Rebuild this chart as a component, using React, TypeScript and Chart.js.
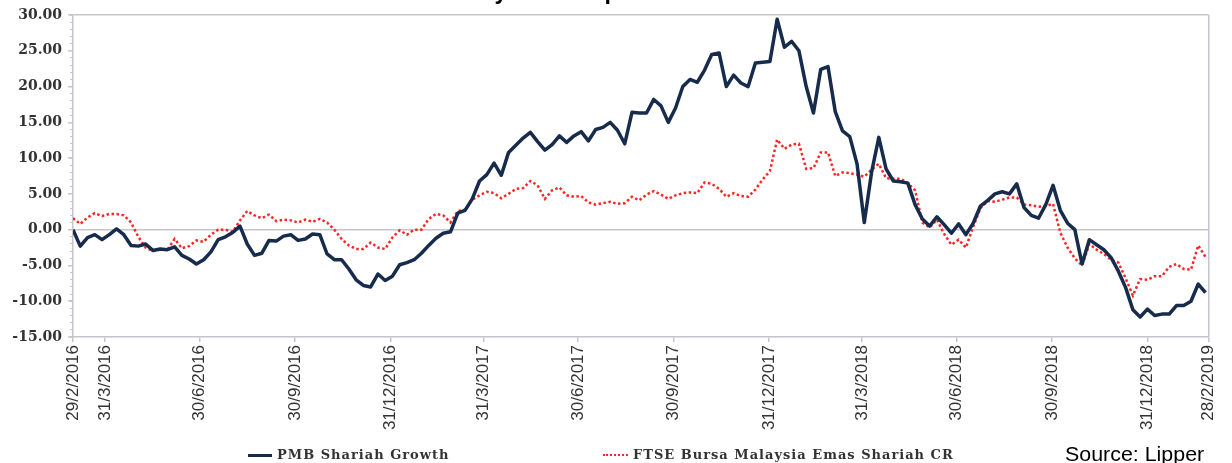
import React, { useEffect, useRef } from 'react';
import { Chart, registerables } from 'chart.js';

Chart.register(...registerables);

const TITLE = '3-year fund performance';
const SERIES_NAMES = ['PMB Shariah Growth', 'FTSE Bursa Malaysia Emas Shariah CR'];
const SOURCE = 'Source: Lipper';

const START_DATE = '2016-02-29';
const END_DATE = '2019-02-28';
const STEP_DAYS = 7; // weekly observations from START_DATE

const TICK_DATES = [
  '2016-02-29', '2016-03-31', '2016-06-30', '2016-09-30', '2016-12-31',
  '2017-03-31', '2017-06-30', '2017-09-30', '2017-12-31',
  '2018-03-31', '2018-06-30', '2018-09-30', '2018-12-31', '2019-02-28',
];
const TICK_LABELS = [
  '29/2/2016', '31/3/2016', '30/6/2016', '30/9/2016', '31/12/2016',
  '31/3/2017', '30/6/2017', '30/9/2017', '31/12/2017',
  '31/3/2018', '30/6/2018', '30/9/2018', '31/12/2018', '28/2/2019',
];

const PMB = [
  0.0, -2.3, -1.1, -0.7, -1.4, -0.7, 0.1, -0.7, -2.2, -2.3,
  -2.0, -2.9, -2.7, -2.8, -2.4, -3.6, -4.1, -4.8, -4.2, -3.1,
  -1.4, -1.0, -0.4, 0.5, -2.0, -3.6, -3.3, -1.5, -1.6, -0.9,
  -0.7, -1.5, -1.3, -0.6, -0.7, -3.4, -4.2, -4.2, -5.5, -7.0,
  -7.8, -8.0, -6.2, -7.1, -6.5, -4.9, -4.6, -4.2, -3.3, -2.2,
  -1.2, -0.5, -0.3, 2.3, 2.7, 4.3, 6.8, 7.7, 9.3, 7.6,
  10.8, 11.8, 12.8, 13.6, 12.3, 11.1, 11.9, 13.1, 12.2, 13.1,
  13.7, 12.4, 14.0, 14.3, 15.0, 13.9, 12.0, 16.4, 16.3, 16.3,
  18.2, 17.3, 15.0, 17.0, 20.0, 21.0, 20.6, 22.3, 24.5, 24.7,
  20.0, 21.6, 20.5, 20.0, 23.3, 23.4, 23.5, 29.4, 25.5, 26.3,
  25.0, 20.0, 16.3, 22.4, 22.8, 16.5, 13.8, 13.0, 9.2, 1.0,
  8.0, 12.9, 8.5, 6.8, 6.7, 6.5, 3.5, 1.5, 0.5, 1.8,
  0.7, -0.5, 0.8, -0.7, 0.9, 3.3, 4.1, 5.0, 5.3, 5.0,
  6.4, 3.1, 2.0, 1.6, 3.5, 6.2, 2.7, 0.9, 0.0, -4.8,
  -1.4, -2.1, -2.8, -3.9, -5.8, -8.1, -11.2, -12.2, -11.1, -12.0,
  -11.8, -11.8, -10.6, -10.6, -10.0, -7.6, -8.8,
];

const FTSE = [
  1.6, 0.8, 1.7, 2.3, 1.9, 2.2, 2.2, 2.0, 1.0, -1.0,
  -2.5, -3.0, -2.8, -2.8, -1.3, -2.6, -2.3, -1.5, -1.7, -0.7,
  0.0, 0.0, -0.3, 1.3, 2.6, 2.0, 1.6, 2.1, 1.2, 1.4,
  1.3, 1.0, 1.4, 1.1, 1.5, 1.0, 0.0, -1.3, -2.2, -2.7,
  -2.7, -1.8, -2.5, -2.7, -1.1, -0.1, -0.7, 0.0, 0.0, 1.5,
  2.2, 2.0, 1.0, 2.6, 2.8, 4.2, 4.8, 5.3, 5.1, 4.4,
  5.0, 5.7, 5.8, 6.8, 6.2, 4.3, 5.5, 5.9, 4.8, 4.6,
  4.7, 3.8, 3.5, 3.7, 3.9, 3.6, 3.7, 4.6, 4.1, 4.9,
  5.4, 4.9, 4.3, 4.8, 5.1, 5.2, 5.1, 6.6, 6.4, 5.7,
  4.6, 5.1, 4.7, 4.6, 5.6, 7.0, 8.2, 12.6, 11.3, 11.9,
  12.0, 8.5, 8.6, 10.8, 10.8, 7.5, 8.0, 7.9, 7.7, 7.4,
  8.4, 9.2, 7.2, 7.1, 7.1, 6.5, 5.5, 1.0, 0.3, 1.4,
  -0.6, -2.1, -1.4, -2.5, 0.4, 3.0, 4.0, 3.9, 4.2, 4.5,
  4.5, 3.5, 3.4, 3.2, 3.3, 3.6, -0.4, -2.5, -4.0, -5.0,
  -2.0, -2.8, -3.4, -4.2, -4.6, -6.8, -9.2, -6.9, -7.0, -6.5,
  -6.5, -5.2, -4.8, -5.5, -5.6, -2.2, -3.8,
];

const Y_MIN = -15;
const Y_MAX = 30;
const Y_STEP = 5;
const Y_MINOR_STEP = 1;

const NAVY = '#172b4d';
const RED = '#ff2424';
const AXIS_GRAY = '#c4c6cc';
const TEXT_GRAY = '#333333';

const dayOffset = (iso: string) => (Date.parse(iso) - Date.parse(START_DATE)) / 86400000;

export default function App() {
  const ref = useRef<HTMLCanvasElement>(null);

  useEffect(() => {
    const xMax = dayOffset(END_DATE);
    const tickDays = TICK_DATES.map(dayOffset);
    const chart = new Chart(ref.current!, {
      type: 'line',
      data: {
        datasets: [
          {
            label: SERIES_NAMES[0],
            data: PMB.map((v, i) => ({ x: i * STEP_DAYS, y: v })),
            borderColor: NAVY,
            backgroundColor: NAVY,
            borderWidth: 3.5,
            pointRadius: 0,
            tension: 0,
            borderJoinStyle: 'round',
          },
          {
            label: SERIES_NAMES[1],
            data: FTSE.map((v, i) => ({ x: i * STEP_DAYS, y: v })),
            borderColor: RED,
            backgroundColor: RED,
            borderWidth: 2.5,
            borderDash: [2.5, 2.5],
            pointRadius: 0,
            tension: 0,
          },
        ],
      },
      options: {
        animation: false,
        responsive: false,
        layout: { padding: { top: 15, right: 18, bottom: 0, left: 0 } },
        plugins: {
          legend: { display: false },
          title: { display: false },
          tooltip: { enabled: false },
        },
        scales: {
          x: {
            type: 'linear',
            min: 0,
            max: xMax,
            afterBuildTicks: (scale: any) => {
              scale.ticks = tickDays.map((d) => ({ value: d }));
            },
            afterFit: (scale: any) => {
              scale.height = 126;
            },
            ticks: {
              autoSkip: false,
              minRotation: 90,
              maxRotation: 90,
              padding: 3,
              color: TEXT_GRAY,
              font: { family: '"Liberation Sans", Arial, sans-serif', size: 17 },
              callback: (_v: any, i: number) => TICK_LABELS[i],
            },
            grid: {
              color: (ctx: any) => (ctx.tick && ctx.tick.value === xMax ? AXIS_GRAY : 'rgba(0,0,0,0)'),
              tickColor: AXIS_GRAY,
              tickLength: 5,
              lineWidth: 1.5,
            },
            border: { color: AXIS_GRAY, width: 1.5 },
          },
          y: {
            type: 'linear',
            position: 'left',
            weight: 1,
            min: Y_MIN,
            max: Y_MAX,
            afterFit: (scale: any) => {
              scale.width = 73;
            },
            ticks: {
              stepSize: Y_STEP,
              padding: 6,
              color: TEXT_GRAY,
              font: { family: '"DejaVu Serif", serif', size: 14, weight: 'bold' },
              callback: (v: any) => Number(v).toFixed(2),
            },
            grid: {
              color: (ctx: any) =>
                ctx.tick && (ctx.tick.value === 0 || ctx.tick.value === Y_MAX) ? AXIS_GRAY : 'rgba(0,0,0,0)',
              tickColor: AXIS_GRAY,
              tickLength: 5,
              lineWidth: 1.5,
            },
            border: { color: AXIS_GRAY, width: 1.5 },
          },
          yMinor: {
            type: 'linear',
            position: 'left',
            weight: 0,
            min: Y_MIN,
            max: Y_MAX,
            afterFit: (scale: any) => {
              scale.width = 0;
            },
            ticks: { display: false, stepSize: Y_MINOR_STEP, maxTicksLimit: 100 },
            grid: {
              drawOnChartArea: false,
              color: AXIS_GRAY,
              tickColor: AXIS_GRAY,
              tickLength: 3,
            },
            border: { display: false },
          },
        },
      } as any,
    });
    return () => chart.destroy();
  }, []);

  const legendFont: React.CSSProperties = {
    position: 'absolute',
    top: 448,
    font: 'bold 13px "DejaVu Serif", serif',
    lineHeight: '14px',
    letterSpacing: '1px',
    color: TEXT_GRAY,
    whiteSpace: 'nowrap',
  };

  return (
    <div
      style={{
        position: 'absolute',
        left: 0,
        top: 0,
        width: 1232,
        height: 463,
        overflow: 'hidden',
        background: '#ffffff',
      }}
    >
      <canvas ref={ref} width={1232} height={463} style={{ display: 'block' }} />
      <div
        style={{
          position: 'absolute',
          left: 0,
          top: -20,
          width: 1218,
          textAlign: 'center',
          font: 'bold 23px "Liberation Sans", Arial, sans-serif',
          lineHeight: '23px',
          color: '#000',
          whiteSpace: 'nowrap',
        }}
      >
        {TITLE}
      </div>
      <div style={{ position: 'absolute', left: 248, top: 454, width: 24, height: 3, background: NAVY }} />
      <div style={{ ...legendFont, left: 277 }}>{SERIES_NAMES[0]}</div>
      <div
        style={{
          position: 'absolute',
          left: 603,
          top: 454,
          width: 25,
          height: 0,
          borderTop: `2px dotted ${RED}`,
        }}
      />
      <div style={{ ...legendFont, left: 633 }}>{SERIES_NAMES[1]}</div>
      <div
        style={{
          position: 'absolute',
          left: 1065,
          top: 444,
          font: '20px "Liberation Sans", Arial, sans-serif',
          lineHeight: '20px',
          color: '#000',
          whiteSpace: 'nowrap',
          transform: 'scaleX(1.07)',
          transformOrigin: '0 0',
        }}
      >
        {SOURCE}
      </div>
    </div>
  );
}
